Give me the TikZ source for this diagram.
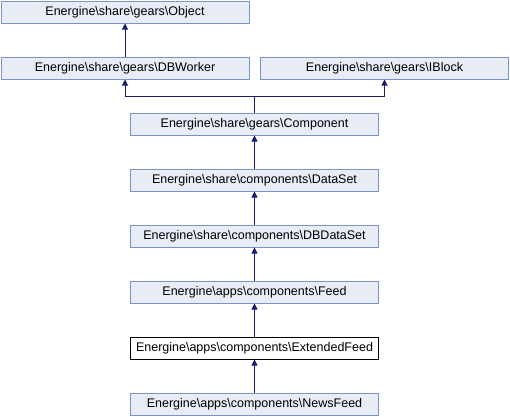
\documentclass[tikz,border=0pt]{standalone}
\usepackage{fontspec}
\setmainfont{Liberation Sans}
\usetikzlibrary{arrows.meta}
\definecolor{boxfill}{HTML}{E8ECF5}
\definecolor{boxline}{HTML}{7B93CC}
\definecolor{edgecol}{HTML}{191970}
\tikzset{
  cls/.style={draw=boxline, fill=boxfill, line width=1pt, minimum width=248pt, minimum height=22pt, inner sep=0pt, font=\fontsize{12.5pt}{14pt}\selectfont},
  cur/.style={cls, draw=black, fill=white},
  inh/.style={draw=edgecol, line width=1pt, -{Triangle[length=6pt,width=6pt]}},
  ln/.style={draw=edgecol, line width=1pt}
}
\begin{document}
\begin{tikzpicture}[x=1pt,y=-1pt]
\useasboundingbox (0,0) rectangle (510,416);
\node[cls] (obj) at (125,12) {Energine\textbackslash share\textbackslash gears\textbackslash Object};
\node[cls] (dbw) at (125,68) {Energine\textbackslash share\textbackslash gears\textbackslash DBWorker};
\node[cls] (ibl) at (384.5,68) {Energine\textbackslash share\textbackslash gears\textbackslash IBlock};
\node[cls] (comp) at (254.5,124) {Energine\textbackslash share\textbackslash gears\textbackslash Component};
\node[cls] (ds) at (254.5,180) {Energine\textbackslash share\textbackslash components\textbackslash DataSet};
\node[cls] (dbds) at (254.5,236) {Energine\textbackslash share\textbackslash components\textbackslash DBDataSet};
\node[cls] (feed) at (254.5,292) {Energine\textbackslash apps\textbackslash components\textbackslash Feed};
\node[cur] (ext) at (254.5,348) {Energine\textbackslash apps\textbackslash components\textbackslash ExtendedFeed};
\node[cls] (news) at (254.5,404) {Energine\textbackslash apps\textbackslash components\textbackslash NewsFeed};
\coordinate (j) at (254.5,96);
\draw[inh] (dbw) -- (obj);
\draw[ln] (comp) -- (j);
\draw[inh] (j) -| (dbw);
\draw[inh] (j) -| (ibl);
\draw[inh] (ds) -- (comp);
\draw[inh] (dbds) -- (ds);
\draw[inh] (feed) -- (dbds);
\draw[inh] (ext) -- (feed);
\draw[inh] (news) -- (ext);
\end{tikzpicture}
\end{document}
